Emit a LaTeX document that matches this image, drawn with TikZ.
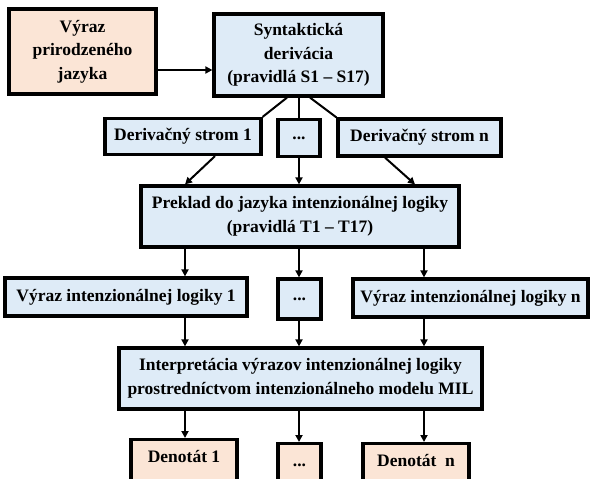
\documentclass[tikz,border=0pt]{standalone}
\usepackage{fontspec}
\setmainfont{Liberation Serif}
\usetikzlibrary{arrows.meta,shadows,calc}
\definecolor{peach}{HTML}{FBE5D6}
\definecolor{paleblue}{HTML}{DEEBF7}
\begin{document}
\begin{tikzpicture}[x=1pt,y=-1pt,
  box/.style={draw=black, line width=3.2pt, align=center, inner sep=0pt,
    font=\bfseries\fontsize{17.5}{23.5}\selectfont,
    drop shadow={shadow xshift=1.5pt, shadow yshift=-1.5pt, opacity=0.3, fill=black}},
  bluebox/.style={box, fill=paleblue},
  peachbox/.style={box, fill=peach},
  link/.style={line width=2pt},
  arr/.style={link, -{Triangle[length=7pt,width=7pt]}},
  bottombox/.style={anchor=north, minimum height=70pt, text height=12pt, text depth=36pt}]
\clip (0,0) rectangle (592,479);
\useasboundingbox (0,0) rectangle (592,479);

% column positions of the vertical arrows
\coordinate (colA) at (185,0);
\coordinate (colB) at (299,0);
\coordinate (colC) at (424,0);
\coordinate (inY) at (0,70);

% top row
\node[peachbox, minimum width=147pt, minimum height=85pt] (vpj) at (82.5,51.5)
  {Výraz\\prirodzeného\\jazyka};
\node[bluebox, minimum width=169pt, minimum height=82pt] (syn) at (298.5,55)
  {Syntaktická\\derivácia\\(pravidlá S1 – S17)};

% derivation trees
\node[bluebox, minimum width=156pt, minimum height=36pt] (ds1) at (183,136.5) {Derivačný strom 1};
\node[bluebox, minimum width=42pt, minimum height=37pt] (dd1) at (299,138) {...};
\node[bluebox, minimum width=163pt, minimum height=37pt] (dsn) at (419.5,137.5) {Derivačný strom n};

% translation
\node[bluebox, minimum width=318pt, minimum height=61pt] (prek) at (300,216.5)
  {Preklad do jazyka intenzionálnej logiky\\(pravidlá T1 – T17)};

% expressions of intensional logic
\node[bluebox, minimum width=242pt, minimum height=38pt] (vil1) at (126,297) {Výraz intenzionálnej logiky 1};
\node[bluebox, minimum width=43pt, minimum height=40pt] (dd2) at (299.5,299) {...};
\node[bluebox, minimum width=235pt, minimum height=38pt] (viln) at (470.5,298) {Výraz intenzionálnej logiky n};

% interpretation
\node[bluebox, minimum width=363pt, minimum height=61pt] (interp) at (300.5,378.5)
  {Interpretácia výrazov intenzionálnej logiky\\prostredníctvom intenzionálneho modelu MIL};

% denotations
\node[peachbox, bottombox, minimum width=106pt] (den1) at (184,438) {Denotát 1};
\node[peachbox, bottombox, minimum width=43pt] (dd3) at (299.5,442) {...};
\node[peachbox, bottombox, minimum width=106pt] (denn) at (416,442) {Denotát~~n};

% connectors
\draw[arr] (vpj.east |- inY) -- (syn.west |- inY);

\draw[link] ([xshift=-11.5pt]syn.south) -- (ds1.north east);
\draw[link] (syn.south -| dd1.north) -- (dd1.north);
\draw[link] ([xshift=11.5pt]syn.south) -- (dsn.north west);

\draw[arr] ([xshift=32pt]ds1.south) -- (prek.north -| colA);
\draw[arr] (dd1.south) -- (prek.north -| dd1.south);
\draw[arr] ([xshift=-34.5pt]dsn.south) -- ([xshift=115pt]prek.north);

\draw[arr] (prek.south -| colA) -- (vil1.north -| colA);
\draw[arr] (prek.south -| colB) -- (dd2.north -| colB);
\draw[arr] (prek.south -| colC) -- (viln.north -| colC);

\draw[arr] (vil1.south -| colA) -- (interp.north -| colA);
\draw[arr] (dd2.south -| colB) -- (interp.north -| colB);
\draw[arr] (viln.south -| colC) -- (interp.north -| colC);

\draw[arr] (interp.south -| colA) -- (den1.north -| colA);
\draw[arr] (interp.south -| colB) -- (dd3.north -| colB);
\draw[arr] (interp.south -| colC) -- (denn.north -| colC);
\end{tikzpicture}
\end{document}
